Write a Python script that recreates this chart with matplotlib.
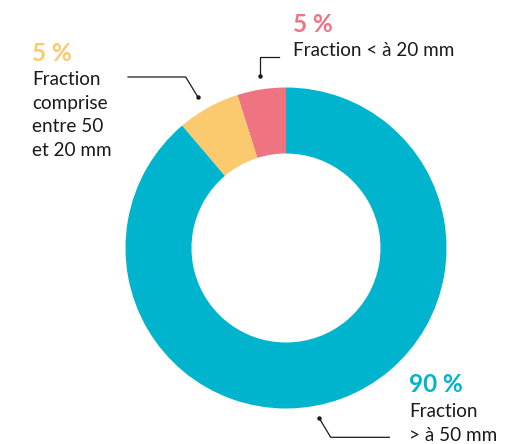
import matplotlib
matplotlib.use("Agg")
import matplotlib.pyplot as plt

# Data
categories = ["Fraction < à 20 mm", "Fraction comprise entre 50 et 20 mm", "Fraction > à 50 mm"]
values = [4.9, 6.3, 88.8]
pct_labels = ["5 %", "5 %", "90 %"]
desc_labels = ["Fraction < à 20 mm", "Fraction\ncomprise\nentre 50\net 20 mm", "Fraction\n> à 50 mm"]
colors = ["#EE7482", "#FBC96E", "#00B4CE"]

W, H = 529, 444
fig = plt.figure(figsize=(W / 100, H / 100), dpi=100)
ax = fig.add_axes([0, 0, 1, 1])
plt.rcParams['font.family'] = ['Lato', 'DejaVu Sans']

def Y(y):
    return H - y

cx, cy, R, w = 286, 248, 160.5, 66
ax.pie(values, colors=colors, startangle=90, counterclock=True,
       center=(cx, Y(cy)), radius=R,
       wedgeprops=dict(width=w, linewidth=0))
ax.set_xlim(0, W)
ax.set_ylim(0, H)
ax.set_aspect('equal')
ax.axis('off')

txt = "#1a1a1a"
pfs, dfs = 17.5, 13.6
lh = 23.5

# Pink label
ax.text(293, Y(32), pct_labels[0], color=colors[0], fontsize=pfs, fontweight='bold', va='baseline', ha='left')
ax.text(293, Y(56), desc_labels[0], color=txt, fontsize=dfs, va='baseline', ha='left')
ax.plot([279.3, 260.3, 260.3], [Y(57.3), Y(57.3), Y(76)], color=txt, lw=0.9)
ax.plot([260.3], [Y(76)], 'o', color=txt, ms=2.2)

# Yellow label
ax.text(32, Y(61), pct_labels[1], color=colors[1], fontsize=pfs, fontweight='bold', va='baseline', ha='left')
for i, line in enumerate(desc_labels[1].split("\n")):
    ax.text(32, Y(85 + i * lh), line, color=txt, fontsize=dfs, va='baseline', ha='left')
ax.plot([128, 185.7, 197.7], [Y(77), Y(77), Y(96.7)], color=txt, lw=0.9)
ax.plot([197.7], [Y(96.7)], 'o', color=txt, ms=2.2)

# Teal label
ax.text(409, Y(392), pct_labels[2], color=colors[2], fontsize=pfs, fontweight='bold', va='baseline', ha='left')
for i, line in enumerate(desc_labels[2].split("\n")):
    ax.text(409, Y(417 + i * lh), line, color=txt, fontsize=dfs, va='baseline', ha='left')
ax.plot([319.3, 330.7, 389.3], [Y(418.3), Y(437.3), Y(437.3)], color=txt, lw=0.9)
ax.plot([319.3], [Y(418.3)], 'o', color=txt, ms=2.2)

fig.savefig("out.png", dpi=100)
